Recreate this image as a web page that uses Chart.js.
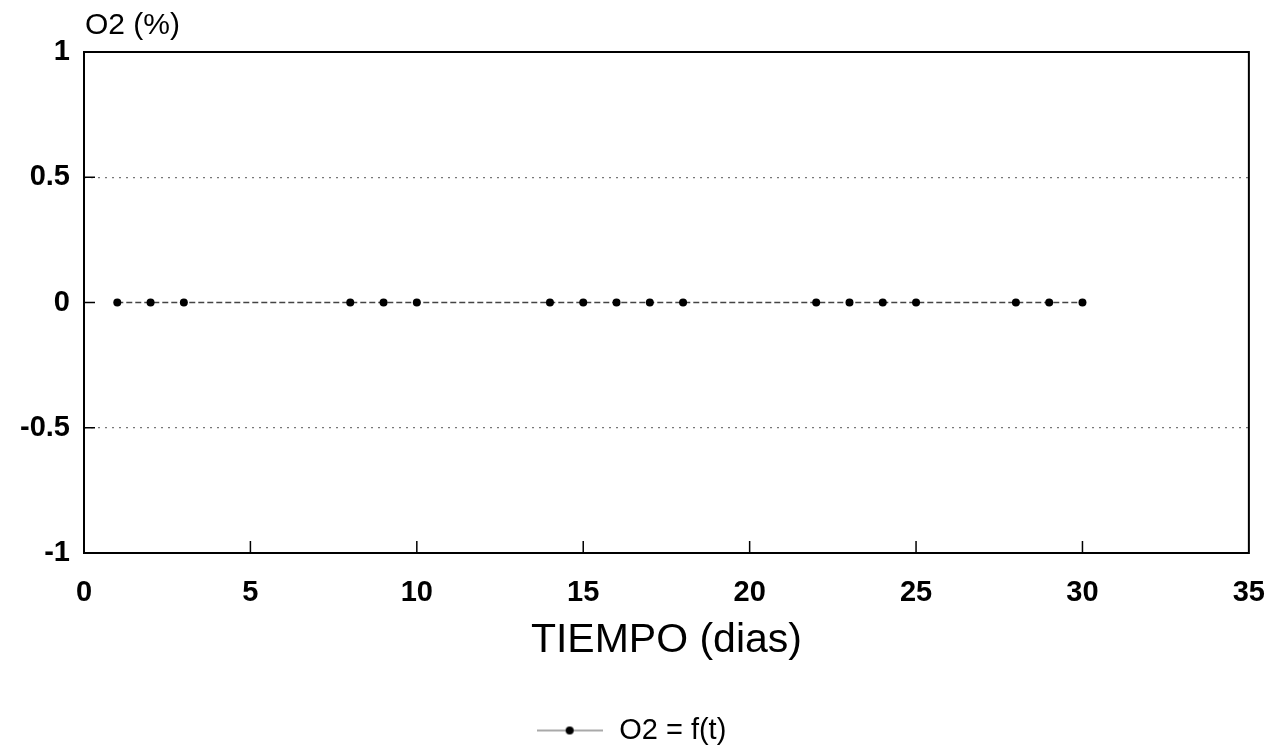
<!DOCTYPE html>
<html>
<head>
<meta charset="utf-8">
<script src="https://cdn.jsdelivr.net/npm/chart.js@4"></script>
<style>
  html, body { margin: 0; padding: 0; background: #ffffff; }
  #wrap { width: 1288px; height: 756px; }
</style>
</head>
<body>
<div id="wrap"><canvas id="c" width="1288" height="756"></canvas></div>
<script>
// ---- data ----
const timeDays = [1, 2, 3, 8, 9, 10, 14, 15, 16, 17, 18, 22, 23, 24, 25, 28, 29, 30];
const o2Values = [0, 0, 0, 0, 0, 0, 0, 0, 0, 0, 0, 0, 0, 0, 0, 0, 0, 0];
const xTickValues = [0, 5, 10, 15, 20, 25, 30, 35];
const yTickValues = [-1, -0.5, 0, 0.5, 1];
const seriesLabel = 'O2 = f(t)';
const xTitle = 'TIEMPO (dias)';
const yTitle = 'O2 (%)';

const FONT = '"Liberation Sans", Arial, Helvetica, sans-serif';

// legend marker: line with a dot
const marker = document.createElement('canvas');
marker.width = 66; marker.height = 12;
(function () {
  const m = marker.getContext('2d');
  m.strokeStyle = '#555'; m.lineWidth = 1.2;
  m.beginPath(); m.moveTo(0, 6); m.lineTo(66, 6); m.stroke();
  m.fillStyle = '#000';
  m.beginPath(); m.arc(33, 6, 4, 0, Math.PI * 2); m.fill();
})();

const framePlugin = {
  id: 'frame',
  afterDraw(chart) {
    const {ctx, chartArea: a, scales} = chart;
    ctx.save();
    ctx.strokeStyle = '#000';
    ctx.lineWidth = 2;
    ctx.strokeRect(a.left, a.top, a.right - a.left, a.bottom - a.top);
    ctx.lineWidth = 1.5;
    ctx.beginPath();
    xTickValues.forEach(v => {
      if (v === xTickValues[0] || v === xTickValues[xTickValues.length - 1]) return;
      const px = scales.x.getPixelForValue(v);
      ctx.moveTo(px, a.bottom); ctx.lineTo(px, a.bottom - 12);
    });
    yTickValues.forEach(v => {
      if (v === yTickValues[0] || v === yTickValues[yTickValues.length - 1]) return;
      const py = scales.y.getPixelForValue(v);
      ctx.moveTo(a.left, py); ctx.lineTo(a.left + 11, py);
    });
    ctx.stroke();
    // y axis title at top-left
    ctx.fillStyle = '#000';
    ctx.font = '30px ' + FONT;
    ctx.textAlign = 'left';
    ctx.textBaseline = 'middle';
    ctx.fillText(yTitle, a.left + 1, 26);
    ctx.restore();
  }
};

new Chart(document.getElementById('c'), {
  type: 'line',
  data: {
    labels: timeDays,
    datasets: [{
      label: seriesLabel,
      data: timeDays.map((t, i) => ({x: t, y: o2Values[i]})),
      borderColor: '#444',
      borderWidth: 1.3,
      borderDash: [6, 3],
      pointRadius: 4,
      pointBackgroundColor: '#000',
      pointBorderColor: '#000',
      pointBorderWidth: 0,
      fill: false,
      tension: 0
    }]
  },
  options: {
    responsive: false,
    animation: false,
    devicePixelRatio: 1,
    layout: { padding: { top: 52, right: 27, left: 0, bottom: 1 } },
    plugins: {
      legend: {
        position: 'bottom',
        labels: {
          usePointStyle: true,
          pointStyle: marker,
          pointStyleWidth: 70,
          boxHeight: 29,
          padding: 10,
          color: '#000',
          font: { family: FONT, size: 29 }
        }
      },
      tooltip: { enabled: false }
    },
    scales: {
      x: {
        type: 'linear',
        min: 0, max: 35,
        afterBuildTicks(s) { s.ticks = xTickValues.map(v => ({value: v})); },
        afterFit(s) { s.height = 153; },
        grid: { display: false, drawTicks: false },
        border: { display: false },
        ticks: {
          color: '#000',
          padding: 23,
          maxRotation: 0,
          font: { family: FONT, size: 29, weight: 'bold' }
        },
        title: {
          display: true,
          text: xTitle,
          color: '#000',
          padding: { top: 0, bottom: 41 },
          font: { family: FONT, size: 41 }
        }
      },
      y: {
        type: 'linear',
        min: -1, max: 1,
        afterBuildTicks(s) { s.ticks = yTickValues.map(v => ({value: v})); },
        afterFit(s) { s.width = 84; },
        grid: {
          drawTicks: false,
          lineWidth: 1.2,
          color: ctx => (ctx.tick && Math.abs(ctx.tick.value) === 0.5) ? '#777' : 'rgba(0,0,0,0)'
        },
        border: { display: false, dash: [2, 5] },
        ticks: {
          color: '#000',
          padding: 14,
          font: { family: FONT, size: 29, weight: 'bold' },
          callback: v => String(v)
        }
      }
    }
  },
  plugins: [framePlugin]
});
</script>
</body>
</html>
